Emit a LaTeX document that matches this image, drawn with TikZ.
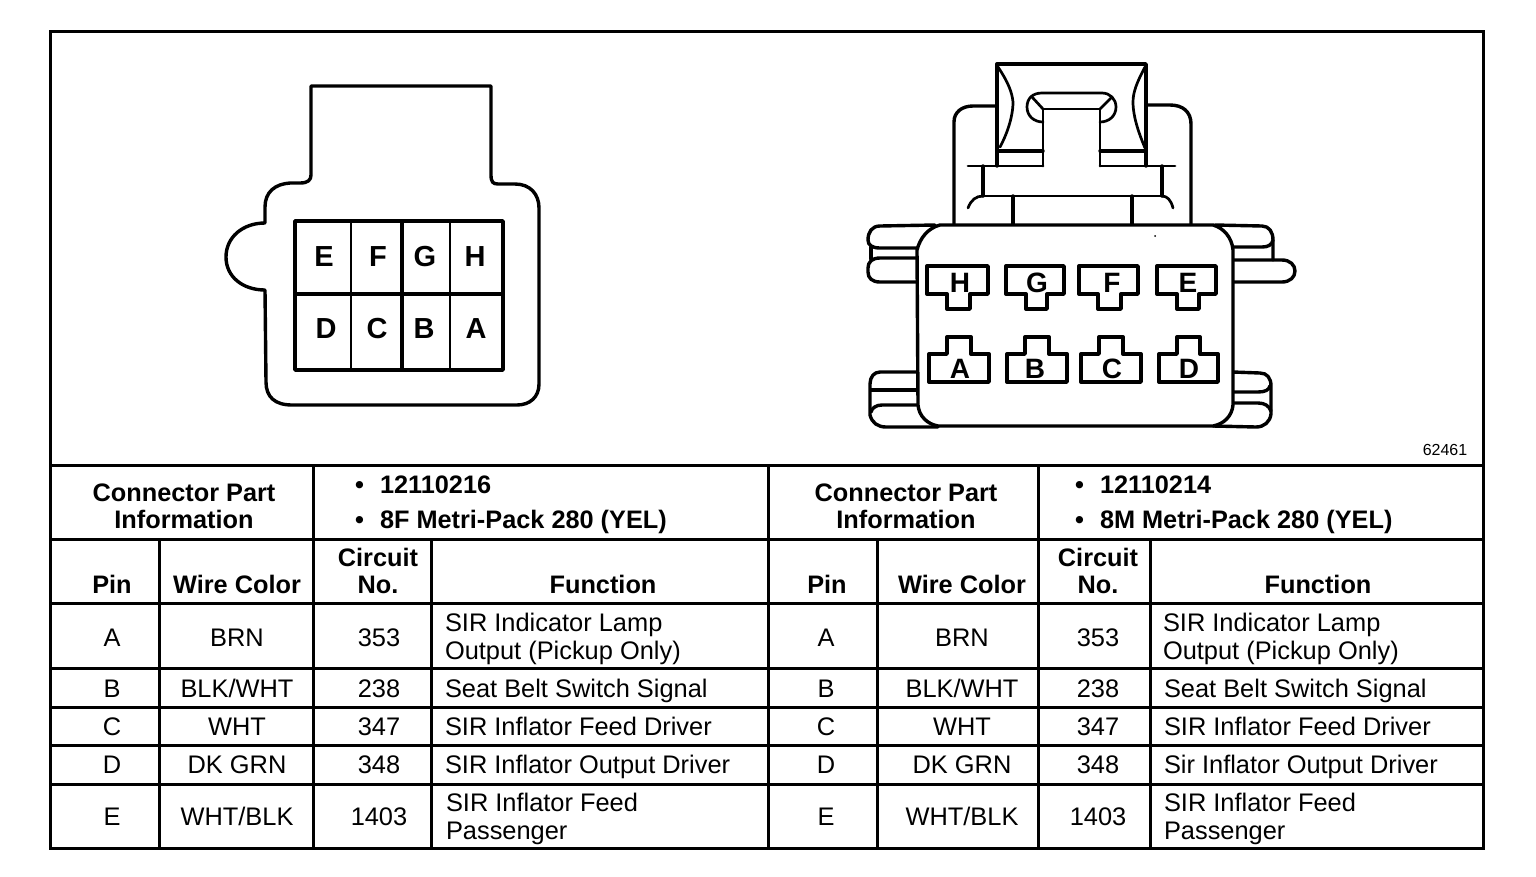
\documentclass[tikz,border=0pt]{standalone}
\usepackage{fontspec}
\setmainfont{Liberation Sans}
\tikzset{
  rule/.style={line width=3pt,line cap=rect},
  part/.style={line width=3.4pt,line join=round,line cap=round},
  thin part/.style={line width=2.7pt,line join=round,line cap=round},
  txt/.style={inner sep=0pt,outer sep=0pt,anchor=base,font=\fontsize{25.4}{30}\selectfont},
  ltxt/.style={txt,anchor=base west},
  btxt/.style={txt,font=\fontsize{25.3}{30}\selectfont\bfseries},
  lbtxt/.style={btxt,anchor=base west},
  pinl/.style={inner sep=0pt,outer sep=0pt,font=\fontsize{29}{30}\selectfont\bfseries},
  pinr/.style={inner sep=0pt,outer sep=0pt,font=\fontsize{28}{30}\selectfont\bfseries}
}
\begin{document}
\begin{tikzpicture}[x=1pt,y=-1pt]
\useasboundingbox (0,0) rectangle (1536,876);
\fill[white] (0,0) rectangle (1536,876);
% frame and table rules
\draw[rule] (50,31) rectangle (1483,848);
\draw[rule] (50,465) -- (1483,465);
\draw[rule] (50,539) -- (1483,539);
\draw[rule] (50,603) -- (1483,603);
\draw[rule] (50,668) -- (1483,668);
\draw[rule] (50,707) -- (1483,707);
\draw[rule] (50,745) -- (1483,745);
\draw[rule] (50,784) -- (1483,784);
\draw[rule] (313,465) -- (313,848);
\draw[rule] (768,465) -- (768,848);
\draw[rule] (1038,465) -- (1038,848);
\draw[rule] (159,539) -- (159,848);
\draw[rule] (431,539) -- (431,848);
\draw[rule] (877,539) -- (877,848);
\draw[rule] (1150,539) -- (1150,848);
% left connector
\draw[part] (311,86) -- (491,86) -- (491,175) .. controls (491,182) and (493,184) .. (498,184)
  -- (515,184) .. controls (530,184) and (539,194) .. (539,208) -- (539,384)
  .. controls (539,397) and (530,405) .. (517,405) -- (292,405)
  .. controls (275,405) and (266,397) .. (266,382) -- (265,290)
  .. controls (243,290) and (226,277) .. (226,257) .. controls (226,237) and (243,223) .. (265,223)
  -- (265,207) .. controls (265,192) and (275,184) .. (290,183) -- (300,183)
  .. controls (308,183) and (311,180) .. (311,175) -- cycle;
\draw[part] (295,221) rectangle (503,370);
\draw[part] (295,294) -- (503,294);
\draw[line width=1.8pt] (351,221) -- (351,370);
\draw[line width=3.2pt] (402,221) -- (402,370);
\draw[line width=2.8pt] (450,221) -- (450,370);
\node[pinl] (le) at (324,257) {E};
\node[pinl] (lf) at (378,257) {F};
\node[pinl] (lg) at (425,257) {G};
\node[pinl] (lh) at (475,257) {H};
\node[pinl] (ld) at (326,329) {D};
\node[pinl] (lc) at (377,329) {C};
\node[pinl] (lb) at (424,329) {B};
\node[pinl] (la) at (476,329) {A};
% right connector: latch
\draw[part] (997,166) -- (997,64) -- (1146,64) -- (1146,166);
\draw[thin part] (998,67) .. controls (1008,82) and (1012,92) .. (1013,102) .. controls (1013,118) and (1006,136) .. (1000,147);
\draw[thin part] (1145,67) .. controls (1137,82) and (1133,92) .. (1133,102) .. controls (1133,118) and (1140,136) .. (1145,148);
\draw[part] (954,225) -- (954,122) .. controls (954,112) and (962,106) .. (973,106) -- (997,106);
\draw[part] (1146,105) -- (1170,105) .. controls (1183,105) and (1191,112) .. (1191,124) -- (1191,225);
\draw[thin part] (1043,166) -- (1043,109) -- (1100,109) -- (1100,166);
\draw[thin part] (1043,122) .. controls (1034,122) and (1027,116) .. (1027,107) .. controls (1027,98) and (1033,93) .. (1042,93)
  -- (1102,93) .. controls (1110,93) and (1116,99) .. (1116,107) .. controls (1116,116) and (1109,122) .. (1100,122);
\draw[thin part] (1043,109) -- (1032,97);
\draw[thin part] (1100,109) -- (1112,97);
\draw[part] (998,151) -- (1043,151);
\draw[part] (1100,151) -- (1146,151);
\draw[thin part] (968,166) -- (1043,166);
\draw[thin part] (1100,166) -- (1175,166);
\draw[part] (983,166) -- (983,196);
\draw[part] (1162,166) -- (1162,196);
\draw[thin part] (983,196) -- (1162,196);
\draw[thin part] (968,208) .. controls (971,200) and (976,196) .. (983,196);
\draw[thin part] (1173,208) .. controls (1171,200) and (1167,196) .. (1162,196);
\draw[part] (1013,196) -- (1013,225);
\draw[part] (1132,196) -- (1132,225);
% ears
\draw[part] (935,225) -- (880,226) .. controls (872,226) and (868,232) .. (868,240)
  .. controls (868,245) and (872,248) .. (880,248) -- (917,248);
\draw[part] (871,247) -- (871,259);
\draw[part] (917,258) -- (880,258) .. controls (872,258) and (868,262) .. (868,268) -- (868,272)
  .. controls (868,278) and (872,282) .. (880,282) -- (917,282);
\draw[part] (1215,225) -- (1262,226) .. controls (1269,226) and (1273,232) .. (1273,240) -- (1273,260);
\draw[part] (1233,247) -- (1262,247) .. controls (1268,247) and (1272,245) .. (1273,240);
\draw[part] (1233,260) -- (1282,260) .. controls (1290,260) and (1295,265) .. (1295,271)
  .. controls (1295,277) and (1290,282) .. (1282,282) -- (1233,282);
\draw[part] (917,372) -- (880,372) .. controls (874,372) and (870,377) .. (870,384) -- (870,415)
  .. controls (872,423) and (878,427) .. (886,427) -- (938,427);
\draw[part] (871,390) -- (917,390);
\draw[part] (917,405) -- (882,405) .. controls (876,405) and (872,408) .. (871,412);
\draw[part] (1233,372) -- (1260,373) .. controls (1267,373) and (1271,378) .. (1271,386) -- (1271,414)
  .. controls (1270,422) and (1264,427) .. (1256,427) -- (1213,426);
\draw[part] (1233,392) -- (1258,392) .. controls (1265,392) and (1269,390) .. (1270,386);
\draw[part] (1233,403) -- (1258,403) .. controls (1265,403) and (1269,406) .. (1271,411);
% right connector: body
\draw[part,fill=white] (940,225) -- (1213,225) .. controls (1224,228) and (1232,238) .. (1233,250) -- (1233,405)
  .. controls (1232,416) and (1224,424) .. (1213,426) -- (938,426)
  .. controls (927,424) and (919,416) .. (918,405) -- (917,250)
  .. controls (920,238) and (928,228) .. (940,225) -- cycle;
\fill (1155,236) circle (1pt);
% terminals top
\foreach \a/\b/\c/\d in {927/947/970/988,1006/1026/1047/1064,1079/1098/1121/1138,1157/1177/1199/1216}
  \draw[part] (\a,266) -- (\d,266) -- (\d,294) -- (\c,294) -- (\c,309) -- (\b,309) -- (\b,294) -- (\a,294) -- cycle;
% terminals bottom
\foreach \a/\b/\c/\d in {929/947/971/989,1007/1025/1049/1067,1081/1099/1123/1141,1159/1177/1200/1218}
  \draw[part] (\a,382) -- (\d,382) -- (\d,354) -- (\c,354) -- (\c,337) -- (\b,337) -- (\b,354) -- (\a,354) -- cycle;
\node[pinr] (rh) at (960,283) {H};
\node[pinr] (rg) at (1037,283) {G};
\node[pinr] (rf) at (1112,283) {F};
\node[pinr] (re) at (1188,283) {E};
\node[pinr] (ra) at (960,369) {A};
\node[pinr] (rb) at (1035,369) {B};
\node[pinr] (rc) at (1112,369) {C};
\node[pinr] (rd) at (1189,369) {D};
\node[txt,font=\fontsize{16}{18}\selectfont] (code) at (1445,455) {62461};
% part info
\node[btxt] (cp1a) at (184,501) {Connector Part};
\node[btxt] (cp1b) at (184,528) {Information};
\node[btxt] (cp2a) at (906,501) {Connector Part};
\node[btxt] (cp2b) at (906,528) {Information};
\node[lbtxt] (bl1) at (355,493) {•};
\node[lbtxt] (bl2) at (355,528) {•};
\node[lbtxt] (pn1) at (380,493) {12110216};
\node[lbtxt] (pd1) at (380,528) {8F Metri-Pack 280 (YEL)};
\node[lbtxt] (bl3) at (1075,493) {•};
\node[lbtxt] (bl4) at (1075,528) {•};
\node[lbtxt] (pn2) at (1100,493) {12110214};
\node[lbtxt] (pd2) at (1100,528) {8M Metri-Pack 280 (YEL)};
% header
\node[btxt] (h1) at (112,593) {Pin};
\node[btxt] (h2) at (237,593) {Wire Color};
\node[btxt] (h3) at (378,566) {Circuit};
\node[btxt] (h4) at (378,593) {No.};
\node[btxt] (h5) at (603,593) {Function};
\node[btxt] (h6) at (827,593) {Pin};
\node[btxt] (h7) at (962,593) {Wire Color};
\node[btxt] (h8) at (1098,566) {Circuit};
\node[btxt] (h9) at (1098,593) {No.};
\node[btxt] (h10) at (1318,593) {Function};
% rows
\foreach \n/\y/\p/\w/\c in {a/646/A/BRN/353,b/697/B/BLK\slash WHT/238,c/735/C/WHT/347,d/773/D/DK GRN/348,e/825/E/WHT\slash BLK/1403}{
  \node[txt] (p1\n) at (112,\y) {\p};
  \node[txt] (w1\n) at (237,\y) {\w};
  \node[txt] (c1\n) at (379,\y) {\c};
  \node[txt] (p2\n) at (826,\y) {\p};
  \node[txt] (w2\n) at (962,\y) {\w};
  \node[txt] (c2\n) at (1098,\y) {\c};
}
\node[ltxt] (f1a) at (445,631) {SIR Indicator Lamp};
\node[ltxt] (f1b) at (445,659) {Output (Pickup Only)};
\node[ltxt] (f1c) at (445,697) {Seat Belt Switch Signal};
\node[ltxt] (f1d) at (445,735) {SIR Inflator Feed Driver};
\node[ltxt] (f1e) at (445,773) {SIR Inflator Output Driver};
\node[ltxt] (f1f) at (446,811) {SIR Inflator Feed};
\node[ltxt] (f1g) at (446,839) {Passenger};
\node[ltxt] (f2a) at (1163,631) {SIR Indicator Lamp};
\node[ltxt] (f2b) at (1163,659) {Output (Pickup Only)};
\node[ltxt] (f2c) at (1164,697) {Seat Belt Switch Signal};
\node[ltxt] (f2d) at (1164,735) {SIR Inflator Feed Driver};
\node[ltxt] (f2e) at (1164,773) {Sir Inflator Output Driver};
\node[ltxt] (f2f) at (1164,811) {SIR Inflator Feed};
\node[ltxt] (f2g) at (1164,839) {Passenger};
\end{tikzpicture}
\end{document}
